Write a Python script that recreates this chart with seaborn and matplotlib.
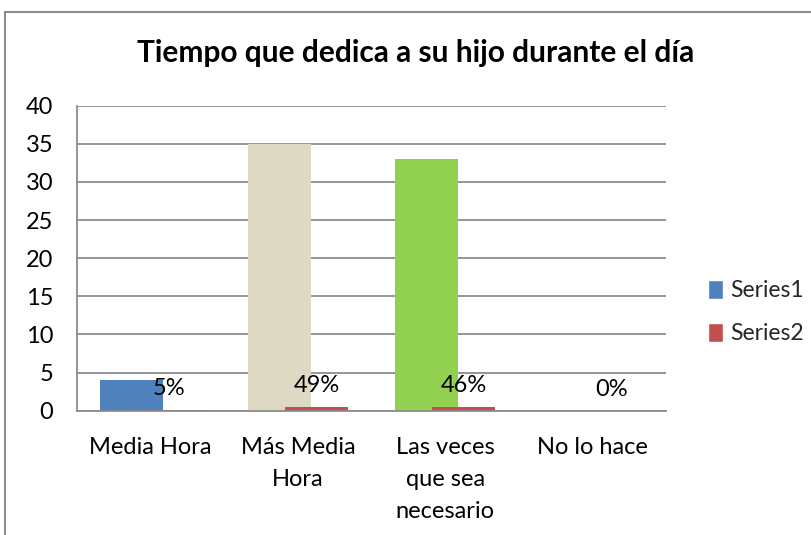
import numpy as np
import pandas as pd
import seaborn as sns
import matplotlib
matplotlib.use("Agg")
import matplotlib.pyplot as plt
from matplotlib.patches import Patch, Rectangle

# ---- data ----
title = "Tiempo que dedica a su hijo durante el día"
categories = ["Media Hora", "Más Media\nHora", "Las veces\nque sea\nnecesario", "No lo hace"]
series1 = [4, 35, 33, 0]
series2 = [0.05, 0.49, 0.46, 0.0]
series2_labels = ["5%", "49%", "46%", "0%"]
y_ticks = [0, 5, 10, 15, 20, 25, 30, 35, 40]
legend_labels = ["Series1", "Series2"]

# ---- style ----
bar_colors = ["#4F81BD", "#DDD9C3", "#92D050", "#4F81BD"]
series2_color = "#C0504D"
grid_color = "#8C8C8C"
bar_width = 0.428
shift = 0.128

sns.set_theme(style="white")
plt.rcParams['font.family'] = ['Lato', 'DejaVu Sans']

W, H = 812, 535
fig = plt.figure(figsize=(W / 100, H / 100), dpi=100)
ax = fig.add_axes([77 / W, 1 - 410.7 / H, (666 - 77) / W, (410.7 - 105.7) / H])

df1 = pd.DataFrame({"cat": categories, "val": series1})
df2 = pd.DataFrame({"cat": categories, "val": series2})

n0 = len(ax.patches)
sns.barplot(data=df1, x="cat", y="val", hue="cat", palette=bar_colors, dodge=False,
            width=bar_width, legend=False, errorbar=None, saturation=1, linewidth=0, ax=ax)
for p in ax.patches[n0:]:
    p.set_x(p.get_x() - shift)
n1 = len(ax.patches)
sns.barplot(data=df2, x="cat", y="val", color=series2_color, width=bar_width,
            errorbar=None, saturation=1, linewidth=0, ax=ax)
for p in ax.patches[n1:]:
    p.set_x(p.get_x() + shift)

ax.bar_label(ax.containers[-1], labels=series2_labels, padding=8, fontsize=17, color="black")

ax.set_ylim(0, 40)
ax.set_xlim(-0.5, len(categories) - 0.5)
ax.set_yticks(y_ticks)
ax.yaxis.grid(True, color=grid_color, linewidth=1.3)
ax.set_axisbelow(True)
ax.set_xlabel("")
ax.set_ylabel("")
for s in ["top", "right"]:
    ax.spines[s].set_visible(False)
for s in ["left", "bottom"]:
    ax.spines[s].set_color(grid_color)
    ax.spines[s].set_linewidth(1.3)
ax.tick_params(axis="y", length=0, pad=17, labelsize=17, labelcolor="black")
ax.tick_params(axis="x", length=0, pad=19, labelsize=17, labelcolor="black")
for t in ax.get_xticklabels():
    t.set_linespacing(1.65)
    t.set_verticalalignment("top")

handles = [Patch(facecolor=bar_colors[0], label=legend_labels[0]),
           Patch(facecolor=series2_color, label=legend_labels[1])]
fig.legend(handles=handles, loc="center left", bbox_to_anchor=(708 / W, 1 - 312 / H),
           frameon=False, handlelength=0.65, handleheight=0.9, handletextpad=0.3,
           labelspacing=0.95, fontsize=16.5, borderpad=0, borderaxespad=0)

fig.text(416 / W, 1 - 53 / H, title, ha="center", va="center", fontsize=21.5,
         fontweight="bold", color="black")

fig.add_artist(Rectangle((5 / W, -0.05), 1.0, 1 - 12 / H + 0.05, transform=fig.transFigure,
                         fill=False, edgecolor=grid_color, linewidth=1.5))

fig.savefig("out.png", dpi=100)
